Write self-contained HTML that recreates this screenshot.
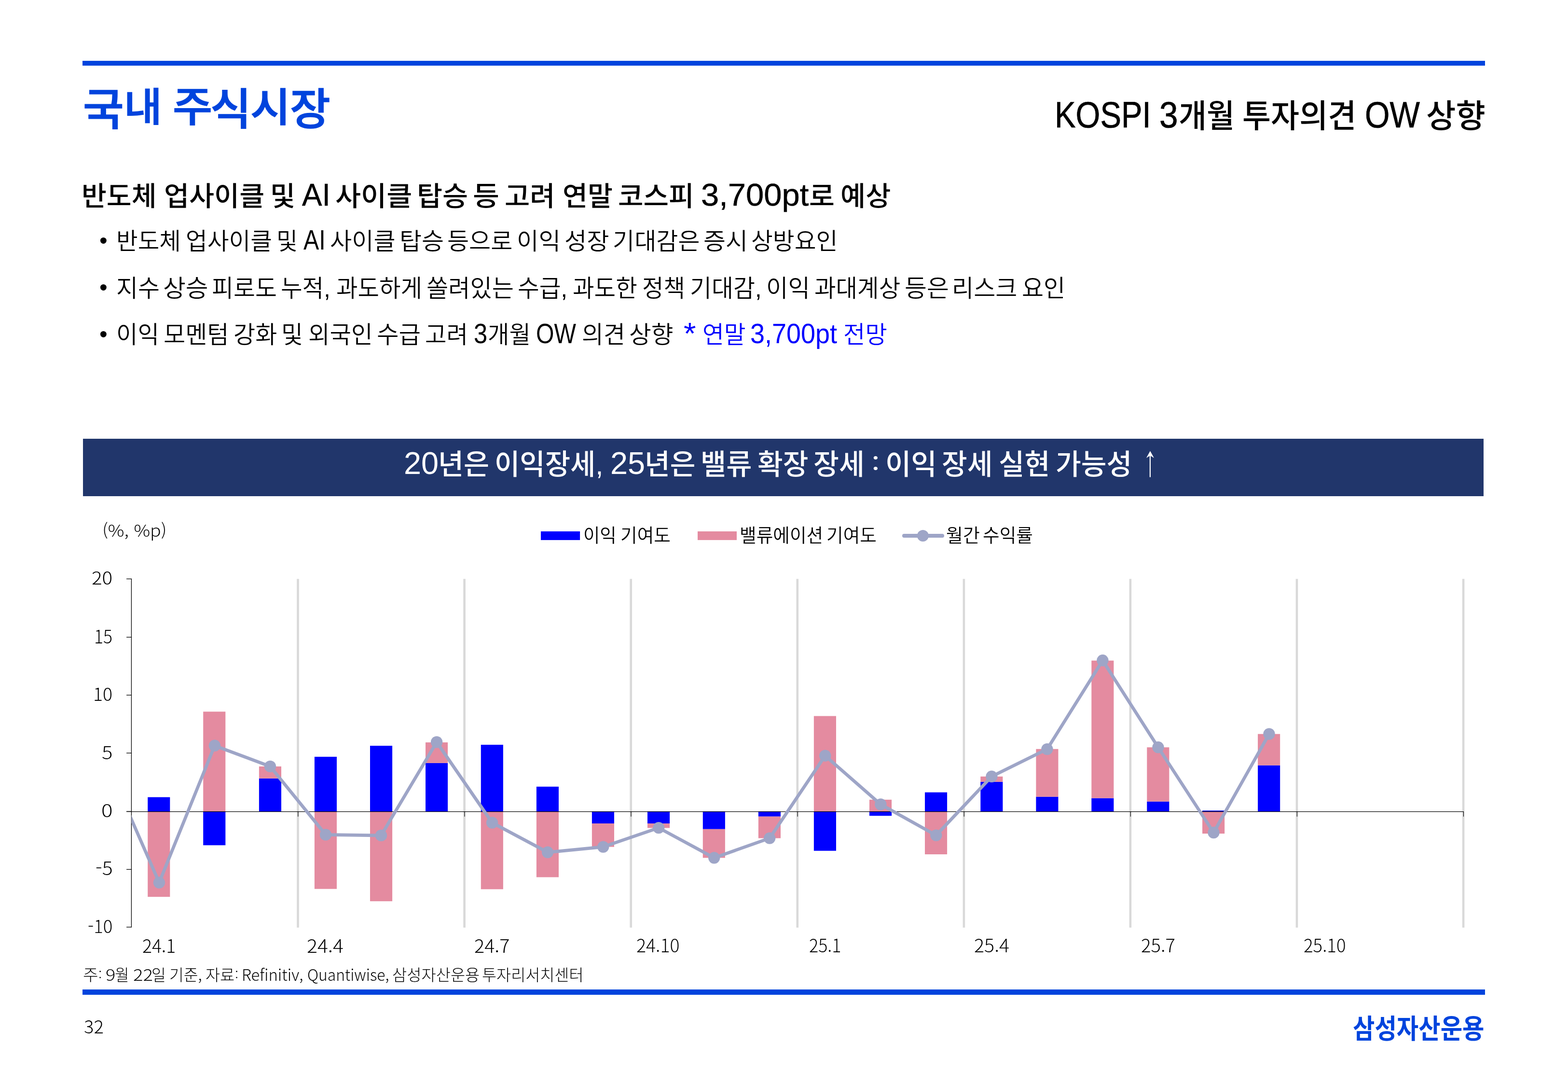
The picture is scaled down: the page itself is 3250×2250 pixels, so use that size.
<!DOCTYPE html>
<html lang="ko"><head><meta charset="utf-8"><title>국내 주식시장</title>
<style>
html,body{margin:0;padding:0;background:#fff;}
body{width:3250px;height:2250px;position:relative;overflow:hidden;font-family:"Liberation Sans", "Noto Sans CJK KR", sans-serif;}
h1,h2,p,ul,li,figure,figcaption,header,footer,section,div{margin:0;padding:0;font:inherit;list-style:none;}
.t{position:absolute;white-space:nowrap;line-height:1;transform-origin:0 0;margin:0;padding:0;}
.r{position:absolute;}
svg{position:absolute;left:0;top:0;}
</style></head><body>
<div class="r" style="left:171px;top:126px;width:2907px;height:10px;background:#0044DD"></div>
<header>
<h1>
<span class="t" id="title_0" style="left:172.29px;top:180.62px;font-size:92px;font-weight:500;color:#0044DD;transform:scale(1.0013,0.9940);-webkit-text-stroke:1.6px #0044DD;">국</span><span class="t" id="title_1" style="left:257.28px;top:182.40px;font-size:92px;font-weight:500;color:#0044DD;transform:scale(0.9319,0.8897);-webkit-text-stroke:1.6px #0044DD;">내</span>
<span class="t" id="title_2" style="left:357.51px;top:180.47px;font-size:92px;font-weight:500;color:#0044DD;transform:scale(0.9714,0.9268);-webkit-text-stroke:1.6px #0044DD;">주</span><span class="t" id="title_3" style="left:436.19px;top:182.40px;font-size:92px;font-weight:500;color:#0044DD;transform:scale(1.0014,0.9759);-webkit-text-stroke:1.6px #0044DD;">식</span><span class="t" id="title_4" style="left:519.05px;top:181.50px;font-size:92px;font-weight:500;color:#0044DD;transform:scale(0.9817,0.9035);-webkit-text-stroke:1.6px #0044DD;">시</span><span class="t" id="title_5" style="left:601.23px;top:182.40px;font-size:92px;font-weight:500;color:#0044DD;transform:scale(0.9899,0.9793);-webkit-text-stroke:1.6px #0044DD;">장</span>
</h1>
<p>
<span class="t" id="sub_0" style="left:2185.63px;top:199.25px;font-size:73px;font-weight:400;color:#000;transform:scale(0.8953,1.0460);-webkit-text-stroke:0.7px #000;">KOSPI</span>
<span class="t" id="sub_1" style="left:2402.50px;top:199.25px;font-size:73px;font-weight:400;color:#000;transform:scale(0.9500,1.0460);-webkit-text-stroke:0.7px #000;">3</span><span class="t" id="sub_2" style="left:2442.73px;top:207.38px;font-size:66px;font-weight:500;color:#000;transform:scale(0.9558,1.0197);">개월</span>
<span class="t" id="sub_3" style="left:2575.28px;top:207.38px;font-size:66px;font-weight:500;color:#000;transform:scale(0.9731,1.0197);">투자의견</span>
<span class="t" id="sub_4" style="left:2828.88px;top:199.25px;font-size:73px;font-weight:400;color:#000;transform:scale(0.9065,1.0460);-webkit-text-stroke:0.7px #000;">OW</span>
<span class="t" id="sub_5" style="left:2955.66px;top:207.38px;font-size:66px;font-weight:500;color:#000;transform:scale(1.0129,1.0197);">상향</span>
</p>
</header>
<section>
<h2>
<span class="t" id="head_0" style="left:168.64px;top:378.70px;font-size:58px;font-weight:500;color:#000;transform:scale(0.9713,0.9685);">반도체</span>
<span class="t" id="head_1" style="left:339.77px;top:378.70px;font-size:58px;font-weight:500;color:#000;transform:scale(0.9755,0.9685);">업사이클</span>
<span class="t" id="head_2" style="left:559.73px;top:378.70px;font-size:58px;font-weight:500;color:#000;transform:scale(0.9750,0.9685);">및</span>
<span class="t" id="head_3" style="left:625.70px;top:371.46px;font-size:64px;font-weight:400;color:#000;transform:scale(0.9709,1.0267);-webkit-text-stroke:0.5px #000;">AI</span>
<span class="t" id="head_4" style="left:694.81px;top:378.70px;font-size:58px;font-weight:500;color:#000;transform:scale(0.9955,0.9685);">사이클</span>
<span class="t" id="head_5" style="left:864.33px;top:378.70px;font-size:58px;font-weight:500;color:#000;transform:scale(0.9939,0.9685);">탑승</span>
<span class="t" id="head_6" style="left:980.21px;top:378.70px;font-size:58px;font-weight:500;color:#000;transform:scale(1.0292,0.9685);">등</span>
<span class="t" id="head_7" style="left:1046.16px;top:378.70px;font-size:58px;font-weight:500;color:#000;transform:scale(0.9794,0.9685);">고려</span>
<span class="t" id="head_8" style="left:1165.88px;top:378.70px;font-size:58px;font-weight:500;color:#000;transform:scale(0.9745,0.9685);">연말</span>
<span class="t" id="head_9" style="left:1280.85px;top:378.70px;font-size:58px;font-weight:500;color:#000;transform:scale(0.9840,0.9685);">코스피</span>
<span class="t" id="head_10" style="left:1453.11px;top:371.46px;font-size:64px;font-weight:400;color:#000;transform:scale(1.0460,1.0267);-webkit-text-stroke:0.5px #000;">3,700pt</span><span class="t" id="head_11" style="left:1677.43px;top:378.70px;font-size:58px;font-weight:500;color:#000;transform:scale(0.9917,0.9685);">로</span>
<span class="t" id="head_12" style="left:1741.67px;top:378.70px;font-size:58px;font-weight:500;color:#000;transform:scale(0.9775,0.9685);">예상</span>
</h2>
<ul>
<li>
<span class="t" id="dots_0" style="left:205.99px;top:474.08px;font-size:50px;font-weight:400;color:#000;transform:scale(0.9538,0.9538);">•</span>
<span class="t" id="b1_0" style="left:240.84px;top:476.20px;font-size:49px;font-weight:350;color:#000;transform:scale(0.9905,1.0044);">반도체</span>
<span class="t" id="b1_1" style="left:384.92px;top:476.20px;font-size:49px;font-weight:350;color:#000;transform:scale(0.9931,1.0044);">업사이클</span>
<span class="t" id="b1_2" style="left:572.92px;top:476.20px;font-size:49px;font-weight:350;color:#000;transform:scale(0.9750,1.0044);">및</span>
<span class="t" id="b1_3" style="left:628.90px;top:468.76px;font-size:54px;font-weight:400;color:#000;transform:scale(0.8957,1.0486);">AI</span>
<span class="t" id="b1_4" style="left:684.19px;top:476.20px;font-size:49px;font-weight:350;color:#000;transform:scale(1.0038,1.0044);">사이클</span>
<span class="t" id="b1_5" style="left:827.69px;top:476.20px;font-size:49px;font-weight:350;color:#000;transform:scale(1.0220,1.0044);">탑승</span>
<span class="t" id="b1_6" style="left:926.60px;top:476.20px;font-size:49px;font-weight:350;color:#000;transform:scale(1.0008,1.0044);">등으로</span>
<span class="t" id="b1_7" style="left:1071.26px;top:476.20px;font-size:49px;font-weight:350;color:#000;transform:scale(1.0088,1.0044);">이익</span>
<span class="t" id="b1_8" style="left:1169.82px;top:476.20px;font-size:49px;font-weight:350;color:#000;transform:scale(1.0282,1.0044);">성장</span>
<span class="t" id="b1_9" style="left:1270.30px;top:476.20px;font-size:49px;font-weight:350;color:#000;transform:scale(1.0011,1.0044);">기대감은</span>
<span class="t" id="b1_10" style="left:1458.16px;top:476.20px;font-size:49px;font-weight:350;color:#000;transform:scale(1.0210,1.0044);">증시</span>
<span class="t" id="b1_11" style="left:1557.41px;top:476.20px;font-size:49px;font-weight:350;color:#000;transform:scale(0.9953,1.0044);">상방요인</span>
</li>
<li>
<span class="t" id="dots_1" style="left:205.99px;top:570.98px;font-size:50px;font-weight:400;color:#000;transform:scale(0.9538,0.9538);">•</span>
<span class="t" id="b2_0" style="left:240.71px;top:573.10px;font-size:49px;font-weight:350;color:#000;transform:scale(0.9976,1.0178);">지수</span>
<span class="t" id="b2_1" style="left:338.19px;top:573.10px;font-size:49px;font-weight:350;color:#000;transform:scale(1.0381,1.0178);">상승</span>
<span class="t" id="b2_2" style="left:439.01px;top:573.10px;font-size:49px;font-weight:350;color:#000;transform:scale(0.9969,1.0178);">피로도</span>
<span class="t" id="b2_3" style="left:582.13px;top:573.10px;font-size:49px;font-weight:350;color:#000;transform:scale(0.9896,1.0178);">누적,</span>
<span class="t" id="b2_4" style="left:697.13px;top:573.10px;font-size:49px;font-weight:350;color:#000;transform:scale(0.9867,1.0178);">과도하게</span>
<span class="t" id="b2_5" style="left:883.69px;top:573.10px;font-size:49px;font-weight:350;color:#000;transform:scale(1.0034,1.0178);">쏠려있는</span>
<span class="t" id="b2_6" style="left:1072.82px;top:573.10px;font-size:49px;font-weight:350;color:#000;transform:scale(0.9927,1.0178);">수급,</span>
<span class="t" id="b2_7" style="left:1187.32px;top:573.10px;font-size:49px;font-weight:350;color:#000;transform:scale(0.9894,1.0178);">과도한</span>
<span class="t" id="b2_8" style="left:1330.74px;top:573.10px;font-size:49px;font-weight:350;color:#000;transform:scale(0.9866,1.0178);">정책</span>
<span class="t" id="b2_9" style="left:1429.61px;top:573.10px;font-size:49px;font-weight:350;color:#000;transform:scale(0.9986,1.0178);">기대감,</span>
<span class="t" id="b2_10" style="left:1587.57px;top:573.10px;font-size:49px;font-weight:350;color:#000;transform:scale(1.0075,1.0178);">이익</span>
<span class="t" id="b2_11" style="left:1687.92px;top:573.10px;font-size:49px;font-weight:350;color:#000;transform:scale(0.9881,1.0178);">과대계상</span>
<span class="t" id="b2_12" style="left:1874.64px;top:573.10px;font-size:49px;font-weight:350;color:#000;transform:scale(1.0190,1.0178);">등은</span>
<span class="t" id="b2_13" style="left:1973.39px;top:573.10px;font-size:49px;font-weight:350;color:#000;transform:scale(1.0023,1.0178);">리스크</span>
<span class="t" id="b2_14" style="left:2118.00px;top:573.10px;font-size:49px;font-weight:350;color:#000;transform:scale(1.0000,1.0178);">요인</span>
</li>
<li>
<span class="t" id="dots_2" style="left:205.99px;top:667.68px;font-size:50px;font-weight:400;color:#000;transform:scale(0.9538,0.9538);">•</span>
<span class="t" id="b3_0" style="left:240.86px;top:670.10px;font-size:49px;font-weight:350;color:#000;transform:scale(0.9850,1.0111);">이익</span>
<span class="t" id="b3_1" style="left:338.80px;top:670.10px;font-size:49px;font-weight:350;color:#000;transform:scale(1.0016,1.0111);">모멘텀</span>
<span class="t" id="b3_2" style="left:484.00px;top:670.10px;font-size:49px;font-weight:350;color:#000;transform:scale(1.0012,1.0111);">강화</span>
<span class="t" id="b3_3" style="left:582.71px;top:670.10px;font-size:49px;font-weight:350;color:#000;transform:scale(0.9972,1.0111);">및</span>
<span class="t" id="b3_4" style="left:638.84px;top:670.10px;font-size:49px;font-weight:350;color:#000;transform:scale(0.9874,1.0111);">외국인</span>
<span class="t" id="b3_5" style="left:780.87px;top:670.10px;font-size:49px;font-weight:350;color:#000;transform:scale(1.0106,1.0111);">수급</span>
<span class="t" id="b3_6" style="left:881.13px;top:670.10px;font-size:49px;font-weight:350;color:#000;transform:scale(0.9889,1.0111);">고려</span>
<span class="t" id="b3_7" style="left:982.22px;top:662.89px;font-size:54px;font-weight:400;color:#000;transform:scale(0.9385,1.0459);">3</span><span class="t" id="b3_8" style="left:1011.44px;top:670.10px;font-size:49px;font-weight:350;color:#000;transform:scale(0.9866,1.0111);">개월</span>
<span class="t" id="b3_9" style="left:1110.92px;top:662.89px;font-size:54px;font-weight:400;color:#000;transform:scale(0.8922,1.0459);">OW</span>
<span class="t" id="b3_10" style="left:1205.81px;top:670.10px;font-size:49px;font-weight:350;color:#000;transform:scale(0.9963,1.0111);">의견</span>
<span class="t" id="b3_11" style="left:1304.25px;top:670.10px;font-size:49px;font-weight:350;color:#000;transform:scale(1.0165,1.0111);">상향</span>
<span class="t" id="b3b_0" style="left:1417.26px;top:659.45px;font-size:49px;font-weight:350;color:#0000FF;transform:scale(1.3412,1.2941);">*</span>
<span class="t" id="b3b_1" style="left:1455.71px;top:670.10px;font-size:49px;font-weight:350;color:#0000FF;transform:scale(0.9953,1.0111);">연말</span>
<span class="t" id="b3b_2" style="left:1555.10px;top:662.89px;font-size:54px;font-weight:400;color:#0000FF;transform:scale(0.9994,1.0459);">3,700pt</span>
<span class="t" id="b3b_3" style="left:1747.88px;top:670.10px;font-size:49px;font-weight:350;color:#0000FF;transform:scale(1.0071,1.0111);">전망</span>
</li>
</ul>
</section>
<figure>
<div class="r" style="left:172px;top:908.7px;width:2903px;height:119.1px;background:#21366B"></div>
<figcaption>
<span class="t" id="ban_0" style="left:837.26px;top:927.32px;font-size:64px;font-weight:400;color:#fff;transform:scale(1.0136,1.0200);">20</span><span class="t" id="ban_1" style="left:908.33px;top:934.49px;font-size:59px;font-weight:500;color:#fff;transform:scale(0.9780,0.9945);">년은</span>
<span class="t" id="ban_2" style="left:1024.68px;top:934.49px;font-size:59px;font-weight:500;color:#fff;transform:scale(0.9646,0.9945);">이익장세,</span>
<span class="t" id="ban_3" style="left:1264.96px;top:927.32px;font-size:64px;font-weight:400;color:#fff;transform:scale(1.0138,1.0200);">25</span><span class="t" id="ban_4" style="left:1335.86px;top:934.49px;font-size:59px;font-weight:500;color:#fff;transform:scale(0.9730,0.9945);">년은</span>
<span class="t" id="ban_5" style="left:1452.30px;top:934.49px;font-size:59px;font-weight:500;color:#fff;transform:scale(0.9792,0.9945);">밸류</span>
<span class="t" id="ban_6" style="left:1569.76px;top:934.49px;font-size:59px;font-weight:500;color:#fff;transform:scale(0.9714,0.9945);">확장</span>
<span class="t" id="ban_7" style="left:1686.37px;top:934.49px;font-size:59px;font-weight:500;color:#fff;transform:scale(0.9760,0.9945);">장세</span>
<span class="t" id="ban_8" style="left:1806.64px;top:936.92px;font-size:59px;font-weight:500;color:#fff;transform:scale(0.8889,0.7250);font-family:'Noto Sans CJK KR','Liberation Sans',sans-serif;">:</span>
<span class="t" id="ban_9" style="left:1835.38px;top:934.49px;font-size:59px;font-weight:500;color:#fff;transform:scale(0.9833,0.9945);">이익</span>
<span class="t" id="ban_10" style="left:1952.48px;top:934.49px;font-size:59px;font-weight:500;color:#fff;transform:scale(0.9730,0.9945);">장세</span>
<span class="t" id="ban_11" style="left:2069.56px;top:934.49px;font-size:59px;font-weight:500;color:#fff;transform:scale(0.9810,0.9945);">실현</span>
<span class="t" id="ban_12" style="left:2187.98px;top:934.49px;font-size:59px;font-weight:500;color:#fff;transform:scale(0.9725,0.9945);">가능성</span>
<span class="t" id="ban_13" style="left:2358.39px;top:931.50px;font-size:59px;font-weight:400;color:#fff;transform:scale(0.8812,1.0660);font-family:'WenQuanYi Zen Hei','Liberation Sans',sans-serif;">↑</span>
</figcaption>
<svg width="3250" height="2250" viewBox="0 0 3250 2250">
<rect x="615.2" y="1199.4" width="4.6" height="722.4" fill="#D9D9D9"/>
<rect x="960.3" y="1199.4" width="4.6" height="722.4" fill="#D9D9D9"/>
<rect x="1305.4" y="1199.4" width="4.6" height="722.4" fill="#D9D9D9"/>
<rect x="1650.5" y="1199.4" width="4.6" height="722.4" fill="#D9D9D9"/>
<rect x="1995.6" y="1199.4" width="4.6" height="722.4" fill="#D9D9D9"/>
<rect x="2340.6" y="1199.4" width="4.6" height="722.4" fill="#D9D9D9"/>
<rect x="2685.7" y="1199.4" width="4.6" height="722.4" fill="#D9D9D9"/>
<rect x="3030.8" y="1199.4" width="4.6" height="722.4" fill="#D9D9D9"/>
<rect x="306.2" y="1651.6" width="46.1" height="29.6" fill="#0000FF"/>
<rect x="306.2" y="1681.2" width="46.1" height="176.9" fill="#E48BA0"/>
<rect x="421.2" y="1474.4" width="46.1" height="206.8" fill="#E48BA0"/>
<rect x="421.2" y="1681.2" width="46.1" height="70.0" fill="#0000FF"/>
<rect x="536.9" y="1612.8" width="46.1" height="68.4" fill="#0000FF"/>
<rect x="536.9" y="1587.9" width="46.1" height="24.9" fill="#E48BA0"/>
<rect x="651.9" y="1567.9" width="46.1" height="113.3" fill="#0000FF"/>
<rect x="651.9" y="1681.2" width="46.1" height="160.5" fill="#E48BA0"/>
<rect x="767.0" y="1545.1" width="46.1" height="136.1" fill="#0000FF"/>
<rect x="767.0" y="1681.2" width="46.1" height="186.0" fill="#E48BA0"/>
<rect x="882.0" y="1580.9" width="46.1" height="100.3" fill="#0000FF"/>
<rect x="882.0" y="1538.1" width="46.1" height="42.8" fill="#E48BA0"/>
<rect x="996.8" y="1543.0" width="46.1" height="138.2" fill="#0000FF"/>
<rect x="996.8" y="1681.2" width="46.1" height="161.1" fill="#E48BA0"/>
<rect x="1111.9" y="1629.8" width="46.1" height="51.4" fill="#0000FF"/>
<rect x="1111.9" y="1681.2" width="46.1" height="136.2" fill="#E48BA0"/>
<rect x="1226.9" y="1681.2" width="46.1" height="24.8" fill="#0000FF"/>
<rect x="1226.9" y="1706.0" width="46.1" height="48.6" fill="#E48BA0"/>
<rect x="1342.0" y="1681.2" width="46.1" height="24.8" fill="#0000FF"/>
<rect x="1342.0" y="1706.0" width="46.1" height="9.4" fill="#E48BA0"/>
<rect x="1456.8" y="1681.2" width="46.1" height="36.6" fill="#0000FF"/>
<rect x="1456.8" y="1717.8" width="46.1" height="59.5" fill="#E48BA0"/>
<rect x="1571.9" y="1681.2" width="46.1" height="10.5" fill="#0000FF"/>
<rect x="1571.9" y="1691.7" width="46.1" height="44.9" fill="#E48BA0"/>
<rect x="1686.9" y="1483.5" width="46.1" height="197.7" fill="#E48BA0"/>
<rect x="1686.9" y="1681.2" width="46.1" height="81.5" fill="#0000FF"/>
<rect x="1802.0" y="1656.8" width="46.1" height="24.4" fill="#E48BA0"/>
<rect x="1802.0" y="1681.2" width="46.1" height="9.0" fill="#0000FF"/>
<rect x="1917.0" y="1641.6" width="46.1" height="39.6" fill="#0000FF"/>
<rect x="1917.0" y="1681.2" width="46.1" height="88.8" fill="#E48BA0"/>
<rect x="2032.3" y="1619.8" width="46.1" height="61.4" fill="#0000FF"/>
<rect x="2032.3" y="1608.8" width="46.1" height="11.0" fill="#E48BA0"/>
<rect x="2147.4" y="1650.7" width="46.1" height="30.5" fill="#0000FF"/>
<rect x="2147.4" y="1551.8" width="46.1" height="98.9" fill="#E48BA0"/>
<rect x="2262.3" y="1653.6" width="46.1" height="27.6" fill="#0000FF"/>
<rect x="2262.3" y="1368.6" width="46.1" height="285.0" fill="#E48BA0"/>
<rect x="2377.3" y="1660.6" width="46.1" height="20.6" fill="#0000FF"/>
<rect x="2377.3" y="1548.3" width="46.1" height="112.3" fill="#E48BA0"/>
<rect x="2492.1" y="1679.4" width="46.1" height="1.8" fill="#0000FF"/>
<rect x="2492.1" y="1681.2" width="46.1" height="45.9" fill="#E48BA0"/>
<rect x="2607.1" y="1585.6" width="46.1" height="95.6" fill="#0000FF"/>
<rect x="2607.1" y="1520.7" width="46.1" height="64.9" fill="#E48BA0"/>
<rect x="271.75" y="1198.75" width="1.3" height="722.70" fill="#000"/>
<rect x="262.1" y="1198.75" width="10.3" height="1.3" fill="#000"/>
<rect x="262.1" y="1319.55" width="10.3" height="1.3" fill="#000"/>
<rect x="262.1" y="1439.55" width="10.3" height="1.3" fill="#000"/>
<rect x="262.1" y="1559.55" width="10.3" height="1.3" fill="#000"/>
<rect x="262.1" y="1680.55" width="10.3" height="1.3" fill="#000"/>
<rect x="262.1" y="1800.65" width="10.3" height="1.3" fill="#000"/>
<rect x="262.1" y="1920.15" width="10.3" height="1.3" fill="#000"/>
<rect x="262.1" y="1681.00" width="2771.6" height="1.2" fill="#000"/>
<rect x="617.29" y="1681.2" width="1.1" height="10.6" fill="#000"/>
<rect x="962.38" y="1681.2" width="1.1" height="10.6" fill="#000"/>
<rect x="1307.47" y="1681.2" width="1.1" height="10.6" fill="#000"/>
<rect x="1652.56" y="1681.2" width="1.1" height="10.6" fill="#000"/>
<rect x="1997.65" y="1681.2" width="1.1" height="10.6" fill="#000"/>
<rect x="2342.74" y="1681.2" width="1.1" height="10.6" fill="#000"/>
<rect x="2687.83" y="1681.2" width="1.1" height="10.6" fill="#000"/>
<rect x="3032.92" y="1681.2" width="1.1" height="10.6" fill="#000"/>
<svg x="272.4" y="1179.4" width="2780.6" height="761.4" viewBox="272.4 1179.4 2780.6 761.4" style="position:static;overflow:hidden">
<path d="M214.9 1566.6 L329.9 1828.6 L444.9 1544.8 L560.0 1587.9 L675.0 1729.4 L790.0 1730.9 L905.1 1537.5 L1020.1 1704.5 L1135.1 1765.8 L1250.2 1754.6 L1365.2 1715.1 L1480.2 1777.3 L1595.2 1736.6 L1710.3 1565.7 L1825.3 1666.5 L1940.3 1730.6 L2055.4 1608.8 L2170.4 1552.1 L2285.4 1368.3 L2400.5 1548.3 L2515.5 1725.0 L2630.5 1520.7" fill="none" stroke="#9EA5C7" stroke-width="6.7" stroke-linejoin="round" stroke-linecap="round"/>
<circle cx="329.9" cy="1828.6" r="12.2" fill="#9EA5C7"/>
<circle cx="444.9" cy="1544.8" r="12.2" fill="#9EA5C7"/>
<circle cx="560.0" cy="1587.9" r="12.2" fill="#9EA5C7"/>
<circle cx="675.0" cy="1729.4" r="12.2" fill="#9EA5C7"/>
<circle cx="790.0" cy="1730.9" r="12.2" fill="#9EA5C7"/>
<circle cx="905.1" cy="1537.5" r="12.2" fill="#9EA5C7"/>
<circle cx="1020.1" cy="1704.5" r="12.2" fill="#9EA5C7"/>
<circle cx="1135.1" cy="1765.8" r="12.2" fill="#9EA5C7"/>
<circle cx="1250.2" cy="1754.6" r="12.2" fill="#9EA5C7"/>
<circle cx="1365.2" cy="1715.1" r="12.2" fill="#9EA5C7"/>
<circle cx="1480.2" cy="1777.3" r="12.2" fill="#9EA5C7"/>
<circle cx="1595.2" cy="1736.6" r="12.2" fill="#9EA5C7"/>
<circle cx="1710.3" cy="1565.7" r="12.2" fill="#9EA5C7"/>
<circle cx="1825.3" cy="1666.5" r="12.2" fill="#9EA5C7"/>
<circle cx="1940.3" cy="1730.6" r="12.2" fill="#9EA5C7"/>
<circle cx="2055.4" cy="1608.8" r="12.2" fill="#9EA5C7"/>
<circle cx="2170.4" cy="1552.1" r="12.2" fill="#9EA5C7"/>
<circle cx="2285.4" cy="1368.3" r="12.2" fill="#9EA5C7"/>
<circle cx="2400.5" cy="1548.3" r="12.2" fill="#9EA5C7"/>
<circle cx="2515.5" cy="1725.0" r="12.2" fill="#9EA5C7"/>
<circle cx="2630.5" cy="1520.7" r="12.2" fill="#9EA5C7"/>
</svg>
<rect x="1121" y="1100.9" width="81.1" height="18" fill="#0000FF"/>
<rect x="1446" y="1100.9" width="81" height="18" fill="#E48BA0"/>
<path d="M1874 1109.9 H1953" stroke="#9EA5C7" stroke-width="8" stroke-linecap="round"/>
<circle cx="1912.9" cy="1109.9" r="12" fill="#9EA5C7"/>
</svg>
<div>
<span class="t" id="unit_0" style="left:212.23px;top:1080.44px;font-size:42px;font-weight:300;color:#000;transform:scale(0.8936,0.8277);font-family:'Noto Sans CJK KR','Liberation Sans',sans-serif;">(%, %p)</span>
</div>
<div>
<span class="t" id="lg_0" style="left:1209.23px;top:1089.81px;font-size:39px;font-weight:350;color:#000;transform:scale(0.9578,0.9917);">이익</span>
<span class="t" id="lg_1" style="left:1285.50px;top:1089.81px;font-size:39px;font-weight:350;color:#000;transform:scale(0.9660,0.9917);">기여도</span>
<span class="t" id="lg_2" style="left:1532.64px;top:1089.81px;font-size:39px;font-weight:350;color:#000;transform:scale(0.9655,0.9917);">밸류에이션</span>
<span class="t" id="lg_3" style="left:1712.50px;top:1089.81px;font-size:39px;font-weight:350;color:#000;transform:scale(0.9660,0.9917);">기여도</span>
<span class="t" id="lg_4" style="left:1960.75px;top:1089.81px;font-size:39px;font-weight:350;color:#000;transform:scale(0.9750,0.9917);">월간</span>
<span class="t" id="lg_5" style="left:2037.17px;top:1089.81px;font-size:39px;font-weight:350;color:#000;transform:scale(0.9654,0.9917);">수익률</span>
</div>
<div>
<span class="t" id="yl_0" style="left:190.43px;top:1177.38px;font-size:41px;font-weight:300;color:#000;transform:scale(0.9850,0.9031);font-family:'Noto Sans CJK KR','Liberation Sans',sans-serif;">20</span>
<span class="t" id="yl_1" style="left:195.44px;top:1296.72px;font-size:41px;font-weight:300;color:#000;transform:scale(0.8658,0.9355);font-family:'Noto Sans CJK KR','Liberation Sans',sans-serif;">15</span>
<span class="t" id="yl_2" style="left:193.45px;top:1418.36px;font-size:41px;font-weight:300;color:#000;transform:scale(0.9132,0.9062);font-family:'Noto Sans CJK KR','Liberation Sans',sans-serif;">10</span>
<span class="t" id="yl_3" style="left:211.36px;top:1537.67px;font-size:41px;font-weight:300;color:#000;transform:scale(1.0222,0.9161);font-family:'Noto Sans CJK KR','Liberation Sans',sans-serif;">5</span>
<span class="t" id="yl_4" style="left:209.56px;top:1657.71px;font-size:41px;font-weight:300;color:#000;transform:scale(1.0722,0.9125);font-family:'Noto Sans CJK KR','Liberation Sans',sans-serif;">0</span>
<span class="t" id="yl_5" style="left:198.00px;top:1777.94px;font-size:41px;font-weight:300;color:#000;transform:scale(1.0000,0.9323);font-family:'Noto Sans CJK KR','Liberation Sans',sans-serif;">-5</span>
<span class="t" id="yl_6" style="left:182.02px;top:1899.08px;font-size:41px;font-weight:300;color:#000;transform:scale(0.8906,0.9031);font-family:'Noto Sans CJK KR','Liberation Sans',sans-serif;">-10</span>
</div>
<div>
<span class="t" id="xl_0" style="left:294.88px;top:1938.24px;font-size:41px;font-weight:300;color:#000;transform:scale(0.9085,0.9516);font-family:'Noto Sans CJK KR','Liberation Sans',sans-serif;">24.1</span>
<span class="t" id="xl_1" style="left:636.40px;top:1938.24px;font-size:41px;font-weight:300;color:#000;transform:scale(0.9986,0.9516);font-family:'Noto Sans CJK KR','Liberation Sans',sans-serif;">24.4</span>
<span class="t" id="xl_2" style="left:983.37px;top:1938.24px;font-size:41px;font-weight:300;color:#000;transform:scale(0.9639,0.9516);font-family:'Noto Sans CJK KR','Liberation Sans',sans-serif;">24.7</span>
<span class="t" id="xl_3" style="left:1319.48px;top:1938.45px;font-size:41px;font-weight:300;color:#000;transform:scale(0.9117,0.9219);font-family:'Noto Sans CJK KR','Liberation Sans',sans-serif;">24.10</span>
<span class="t" id="xl_4" style="left:1676.95px;top:1938.45px;font-size:41px;font-weight:300;color:#000;transform:scale(0.8746,0.9219);font-family:'Noto Sans CJK KR','Liberation Sans',sans-serif;">25.1</span>
<span class="t" id="xl_5" style="left:2018.88px;top:1938.45px;font-size:41px;font-weight:300;color:#000;transform:scale(0.9603,0.9219);font-family:'Noto Sans CJK KR','Liberation Sans',sans-serif;">25.4</span>
<span class="t" id="xl_6" style="left:2365.13px;top:1938.45px;font-size:41px;font-weight:300;color:#000;transform:scale(0.9347,0.9219);font-family:'Noto Sans CJK KR','Liberation Sans',sans-serif;">25.7</span>
<span class="t" id="xl_7" style="left:2701.81px;top:1938.45px;font-size:41px;font-weight:300;color:#000;transform:scale(0.8926,0.9219);font-family:'Noto Sans CJK KR','Liberation Sans',sans-serif;">25.10</span>
</div>
<p>
<span class="t" id="foot_0" style="left:171.72px;top:2001.96px;font-size:33px;font-weight:300;color:#000;transform:scale(1.0423,1.0133);font-family:'Noto Sans CJK KR','Liberation Sans',sans-serif;">주</span><span class="t" id="foot_1" style="left:203.85px;top:2006.94px;font-size:33px;font-weight:300;color:#000;transform:scale(0.8750,0.7429);font-family:'Noto Sans CJK KR','Liberation Sans',sans-serif;">:</span>
<span class="t" id="foot_2" style="left:219.26px;top:2001.67px;font-size:34px;font-weight:300;color:#000;transform:scale(1.1214,0.9720);font-family:'Noto Sans CJK KR','Liberation Sans',sans-serif;">9</span><span class="t" id="foot_3" style="left:238.45px;top:2001.96px;font-size:33px;font-weight:300;color:#000;transform:scale(0.9760,1.0133);font-family:'Noto Sans CJK KR','Liberation Sans',sans-serif;">월</span>
<span class="t" id="foot_4" style="left:276.05px;top:2001.67px;font-size:34px;font-weight:300;color:#000;transform:scale(1.1242,0.9720);font-family:'Noto Sans CJK KR','Liberation Sans',sans-serif;">22</span><span class="t" id="foot_5" style="left:314.46px;top:2001.96px;font-size:33px;font-weight:300;color:#000;transform:scale(0.9792,1.0133);font-family:'Noto Sans CJK KR','Liberation Sans',sans-serif;">일</span>
<span class="t" id="foot_6" style="left:350.56px;top:2001.96px;font-size:33px;font-weight:300;color:#000;transform:scale(0.9797,1.0133);font-family:'Noto Sans CJK KR','Liberation Sans',sans-serif;">기준,</span>
<span class="t" id="foot_7" style="left:425.82px;top:2001.96px;font-size:33px;font-weight:300;color:#000;transform:scale(0.9912,1.0133);font-family:'Noto Sans CJK KR','Liberation Sans',sans-serif;">자료</span><span class="t" id="foot_8" style="left:487.40px;top:2006.94px;font-size:33px;font-weight:300;color:#000;transform:scale(0.8500,0.7429);font-family:'Noto Sans CJK KR','Liberation Sans',sans-serif;">:</span>
<span class="t" id="foot_9" style="left:500.94px;top:2001.67px;font-size:34px;font-weight:300;color:#000;transform:scale(0.9643,0.9720);font-family:'Noto Sans CJK KR','Liberation Sans',sans-serif;">Refinitiv,</span>
<span class="t" id="foot_10" style="left:636.53px;top:2001.67px;font-size:34px;font-weight:300;color:#000;transform:scale(0.9350,0.9720);font-family:'Noto Sans CJK KR','Liberation Sans',sans-serif;">Quantiwise,</span>
<span class="t" id="foot_11" style="left:812.91px;top:2001.96px;font-size:33px;font-weight:300;color:#000;transform:scale(0.9955,1.0133);font-family:'Noto Sans CJK KR','Liberation Sans',sans-serif;">삼성자산운용</span>
<span class="t" id="foot_12" style="left:998.62px;top:2001.96px;font-size:33px;font-weight:300;color:#000;transform:scale(0.9903,1.0133);font-family:'Noto Sans CJK KR','Liberation Sans',sans-serif;">투자리서치센터</span>
</p>
</figure>
<div class="r" style="left:171px;top:2050.1px;width:2907px;height:10.7px;background:#0044DD"></div>
<footer>
<div>
<span class="t" id="pg_0" style="left:174.14px;top:2105.57px;font-size:41px;font-weight:300;color:#000;transform:scale(0.9300,0.9188);font-family:'Noto Sans CJK KR','Liberation Sans',sans-serif;">32</span>
</div>
<div>
<span class="t" id="logo_0" style="left:2803.64px;top:2104.20px;font-size:56px;font-weight:700;color:#0044DD;transform:scale(0.8816,0.9925);">삼성자산운용</span>
</div>
</footer>
</body></html>
